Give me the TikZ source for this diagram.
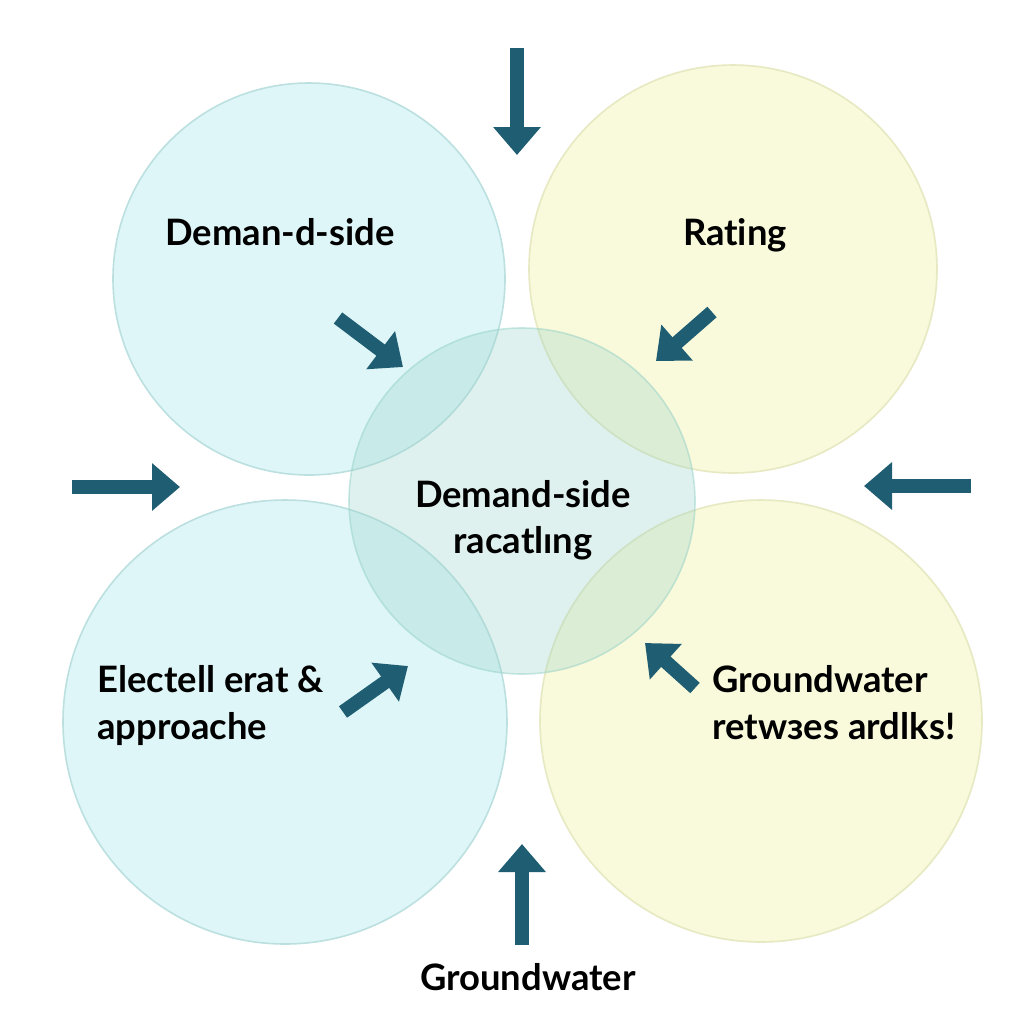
\documentclass[tikz,border=0pt]{standalone}
\usepackage{fontspec}
\setmainfont{Lato}[Ligatures=NoCommon]
\usetikzlibrary{arrows.meta}

\definecolor{arrowteal}{RGB}{31,94,114}
\definecolor{paleblue}{RGB}{222,246,248}
\definecolor{paleyellow}{RGB}{249,249,219}
\definecolor{blueedge}{RGB}{188,224,224}
\definecolor{yellowedge}{RGB}{230,233,193}
\definecolor{midteal}{RGB}{150,210,200}

\begin{document}
\begin{tikzpicture}[x=0.5pt,y=-0.5pt,
    bubble/.style={circle,inner sep=0pt,line width=0.8pt},
    flow/.style={-{Triangle[width=23pt,length=14pt]},line width=7pt,draw=arrowteal},
    lbl/.style={font=\fontsize{18.2}{22}\selectfont\bfseries,inner sep=0pt}]
  \useasboundingbox[fill=white] (0,0) rectangle (1024,1024);

  % circles
  \node[bubble,minimum size=196pt,fill=paleblue,draw=blueedge] (tl) at (309,279) {};
  \node[bubble,minimum size=204pt,fill=paleyellow,draw=yellowedge] (tr) at (733,269) {};
  \node[bubble,minimum size=222pt,fill=paleblue,draw=blueedge] (bl) at (285,722) {};
  \node[bubble,minimum size=221pt,fill=paleyellow,draw=yellowedge] (br) at (761,721) {};
  \node[bubble,minimum size=173pt,fill=midteal,fill opacity=0.3,draw=midteal,draw opacity=0.5] (mid) at (522,501) {};

  % labels
  \node[lbl,anchor=base] (tltext) at (280,245) {Deman-d-side};
  \node[lbl,anchor=base] (trtext) at (735,245) {Rating};
  \node[lbl,anchor=base] (midtexta) at (523,507) {Demand-side};
  \node[lbl,anchor=base] (midtextb) at (523,553) {racatlıng};
  \node[lbl,anchor=base west] (bltexta) at (97,692) {Electell erat \&};
  \node[lbl,anchor=base west] (bltextb) at (97,739) {approache};
  \node[lbl,anchor=base west] (brtexta) at (712,692) {Groundwater};
  \node[lbl,anchor=base west] (brtextb) at (712,739) {retwзes ardlks!};
  \node[lbl,anchor=base] (bottext) at (528,990) {Groundwater};

  % arrows
  \coordinate (topA) at (517,48);   \coordinate (topB) at (517,155);
  \coordinate (leftA) at (72,487);  \coordinate (leftB) at (180,487);
  \coordinate (rightA) at (971,486); \coordinate (rightB) at (864,486);
  \coordinate (botA) at (522,945);  \coordinate (botB) at (522,844);
  \coordinate (tlA) at (338,318);   \coordinate (tlB) at (403,367);
  \coordinate (trA) at (712,312);   \coordinate (trB) at (656,361);
  \coordinate (blA) at (343,712);   \coordinate (blB) at (408,666);
  \coordinate (brA) at (695,688);   \coordinate (brB) at (645,643);
  \foreach \s in {top,left,right,bot,tl,tr,bl,br}
    \draw[flow] (\s A) -- (\s B);
\end{tikzpicture}
\end{document}
